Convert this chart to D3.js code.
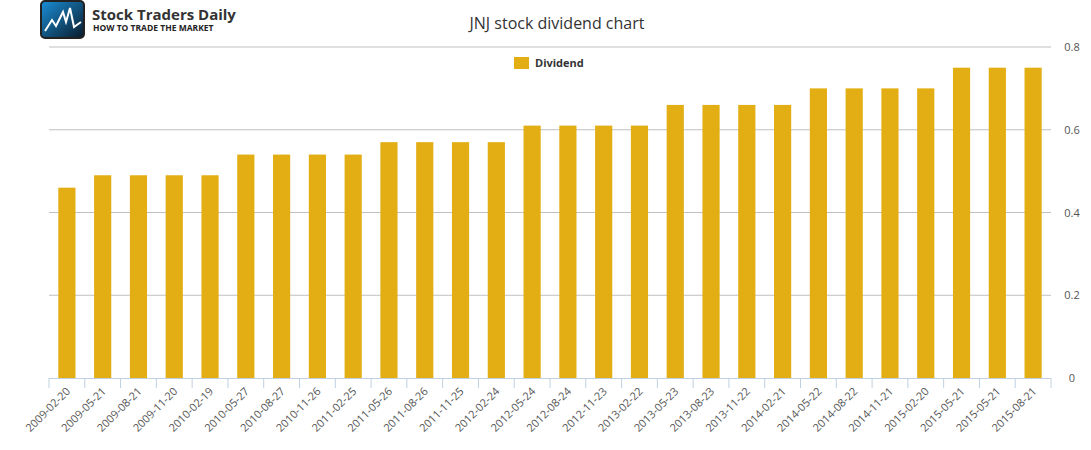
<!DOCTYPE html>
<html><head><meta charset="utf-8">
<script src="https://cdn.jsdelivr.net/npm/d3@7"></script>
<style>body{margin:0;background:#fff;font-family:"Open Sans","DejaVu Sans",sans-serif}</style>
</head><body><svg id="c" width="1091" height="450"></svg>
<script>
const categories=["2009-02-20","2009-05-21","2009-08-21","2009-11-20","2010-02-19","2010-05-27","2010-08-27","2010-11-26","2011-02-25","2011-05-26","2011-08-26","2011-11-25","2012-02-24","2012-05-24","2012-08-24","2012-11-23","2013-02-22","2013-05-23","2013-08-23","2013-11-22","2014-02-21","2014-05-22","2014-08-22","2014-11-21","2015-02-20","2015-05-21","2015-05-21 ","2015-08-21"];
const dividend=[0.46,0.49,0.49,0.49,0.49,0.54,0.54,0.54,0.54,0.57,0.57,0.57,0.57,0.61,0.61,0.61,0.61,0.66,0.66,0.66,0.66,0.70,0.70,0.70,0.70,0.75,0.75,0.75];
const yTicks=[0,0.2,0.4,0.6,0.8];
const svg=d3.select("#c");
const L=49,R=1051,T=47,B=378;
const x=d3.scaleBand().domain(categories).range([L,R]).paddingInner(0.52).paddingOuter(0.26);
const xb=d3.scaleBand().domain(categories).range([L,R]);
const y=d3.scaleLinear().domain([0,0.8]).range([B,T]);
// grid
svg.selectAll(".g").data(yTicks.slice(1)).join("line").attr("x1",L).attr("x2",R).attr("y1",d=>y(d)).attr("y2",d=>y(d)).attr("stroke","#c0c0c0");
svg.selectAll(".yl").data(yTicks).join("text").attr("x",1072).attr("y",d=>y(d)+4).attr("text-anchor","middle").attr("font-size",11).attr("fill","#555").text(d=>d===0?"0":d.toFixed(1));
// bars
svg.selectAll(".b").data(dividend).join("rect").attr("x",(d,i)=>x(categories[i])).attr("width",x.bandwidth()).attr("y",d=>y(d)).attr("height",d=>B-y(d)).attr("fill","#e2ae13");
// x axis
svg.append("line").attr("x1",L).attr("x2",R).attr("y1",B+0.5).attr("y2",B+0.5).attr("stroke","#c0d0e0");
const ticks=categories.map(c=>xb(c)).concat([R]);
svg.selectAll(".t").data(ticks).join("line").attr("x1",d=>d).attr("x2",d=>d).attr("y1",B).attr("y2",B+10).attr("stroke","#c0d0e0");
svg.selectAll(".xl").data(categories).join("text").attr("text-anchor","end").attr("font-size",11).attr("fill","#555")
 .attr("transform",c=>`translate(${xb(c)+xb.bandwidth()/2+4},${B+14}) rotate(-45)`).text(c=>c.trim());
// title
svg.append("text").attr("x",557).attr("y",29).attr("text-anchor","middle").attr("font-size",16).attr("fill","#333").text("JNJ stock dividend chart");
// legend
svg.append("rect").attr("x",514).attr("y",57).attr("width",15).attr("height",12).attr("fill","#e2ae13");
svg.append("text").attr("x",535).attr("y",67).attr("font-size",11).attr("font-weight","bold").attr("fill","#333").text("Dividend");
// logo
const g=svg.append("g");
const grad=svg.append("defs").append("linearGradient").attr("id","lg").attr("x1","0").attr("x2","1").attr("y1","0").attr("y2","1");
grad.append("stop").attr("offset","0").attr("stop-color","#1a8fd8");grad.append("stop").attr("offset","1").attr("stop-color","#0a1a2a");
g.append("rect").attr("x",41).attr("y",1).attr("width",43).attr("height",37).attr("rx",4).attr("fill","url(#lg)").attr("stroke","#222").attr("stroke-width",2);
g.append("polyline").attr("points","45,31 52,20 56,26 63,12 66,22 70,8 74,27 81,22").attr("fill","none").attr("stroke","#fff").attr("stroke-width",2);
g.append("text").attr("x",92).attr("y",20).attr("font-size",15).attr("font-weight","bold").attr("fill","#333").text("Stock Traders Daily");
g.append("text").attr("x",93).attr("y",31).attr("font-size",8.5).attr("font-weight","bold").attr("fill","#222").text("HOW TO TRADE THE MARKET");
</script></body></html>
